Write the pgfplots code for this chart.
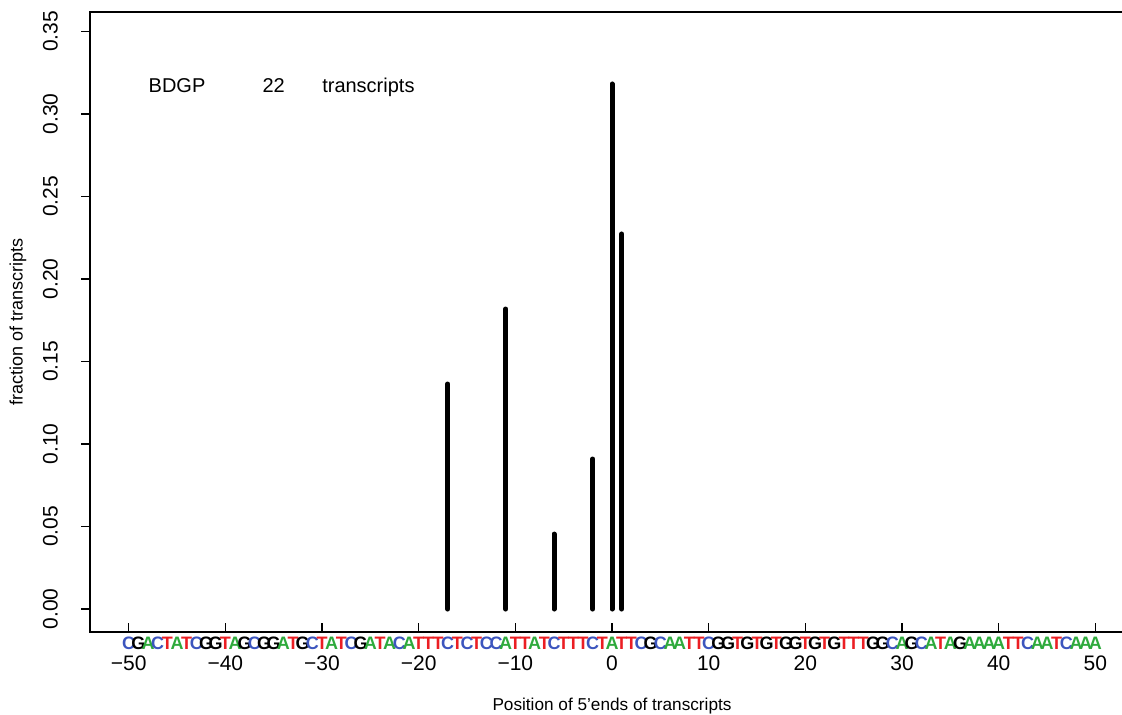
\documentclass[border=0pt]{standalone}
\usepackage{pgfplots}
\pgfplotsset{compat=1.18}
\usepackage{pgfplotstable}
\usepackage{fontspec}
\setmainfont{Liberation Sans}
\definecolor{seqA}{RGB}{46,170,60}
\definecolor{seqC}{RGB}{60,85,190}
\definecolor{seqG}{RGB}{0,0,0}
\definecolor{seqT}{RGB}{235,30,35}
\newcommand{\sA}{\textcolor{seqA}{A}}
\newcommand{\sC}{\textcolor{seqC}{C}}
\newcommand{\sG}{\textcolor{seqG}{G}}
\newcommand{\sT}{\textcolor{seqT}{T}}

\pgfplotstableread{
x b
-50 C
-49 G
-48 A
-47 C
-46 T
-45 A
-44 T
-43 C
-42 G
-41 G
-40 T
-39 A
-38 G
-37 C
-36 G
-35 G
-34 A
-33 T
-32 G
-31 C
-30 T
-29 A
-28 T
-27 C
-26 G
-25 A
-24 T
-23 A
-22 C
-21 A
-20 T
-19 T
-18 T
-17 C
-16 T
-15 C
-14 T
-13 C
-12 C
-11 A
-10 T
-9 T
-8 A
-7 T
-6 C
-5 T
-4 T
-3 T
-2 C
-1 T
0 A
1 T
2 T
3 C
4 G
5 C
6 A
7 A
8 T
9 T
10 C
11 G
12 G
13 T
14 G
15 T
16 G
17 T
18 G
19 G
20 T
21 G
22 T
23 G
24 T
25 T
26 T
27 G
28 G
29 C
30 A
31 G
32 C
33 A
34 T
35 A
36 G
37 A
38 A
39 A
40 A
41 T
42 T
43 C
44 A
45 A
46 T
47 C
48 A
49 A
50 A
}\seqtable

\pgfplotstableread{
x y
-17 0.13636
-11 0.18182
-6 0.04545
-2 0.09091
0 0.31818
1 0.22727
}\fractable

\begin{document}
\begin{tikzpicture}
\begin{axis}[
  at={(45pt,41.5pt)}, anchor=south west,
  scale only axis, width=522pt, height=310pt,
  xmin=-54, xmax=54, ymin=-0.0139, ymax=0.3618,
  clip=false,
  axis line style={line width=0.6pt},
  xtick={-50,-40,...,50},
  xticklabels={−50,−40,−30,−20,−10,0,10,20,30,40,50},
  ytick={0,0.05,...,0.35},
  yticklabels={0.00,0.05,0.10,0.15,0.20,0.25,0.30,0.35},
  xtick pos=bottom, ytick pos=left,
  x tick style={line width=0.6pt, black},
  y tick style={line width=0.6pt, black},
  xtick align=inside, ytick align=outside,
  x tick label style={font=\fontsize{10.5}{12}\selectfont, anchor=center, yshift=-15.5pt},
  y tick label style={font=\fontsize{10.5}{12}\selectfont, anchor=center, xshift=-15.5pt, rotate=90},
  xlabel={Position of 5’ends of transcripts},
  ylabel={fraction of transcripts},
  every axis x label/.style={at={(axis description cs:0.5,0)}, yshift=-37pt, anchor=center, font=\fontsize{8.6}{10}\selectfont},
  every axis y label/.style={at={(axis description cs:0,0.5)}, xshift=-36pt, anchor=center, rotate=90, font=\fontsize{9}{10}\selectfont},
]
\addplot[ycomb, black, line width=2.5pt, line cap=round] table[x=x,y=y] {\fractable};
\addplot[only marks, mark=none, point meta=explicit symbolic,
  nodes near coords={\csname s\pgfplotspointmeta\endcsname},
  nodes near coords style={anchor=north, inner sep=0pt, yshift=-2.3pt, font=\bfseries\fontsize{9}{9}\selectfont}]
  table[x=x, y expr=-0.0139, meta=b] {\seqtable};
\node[font=\fontsize{10}{12}\selectfont, anchor=base] at (axis cs:-45,0.3131) {BDGP};
\node[font=\fontsize{10}{12}\selectfont, anchor=base] at (axis cs:-35,0.3131) {22};
\node[font=\fontsize{10}{12}\selectfont, anchor=base] at (axis cs:-25.2,0.3131) {transcripts};
\end{axis}
\pgfresetboundingbox
\useasboundingbox (0,0) rectangle (561pt,357.5pt);
\end{tikzpicture}
\end{document}
